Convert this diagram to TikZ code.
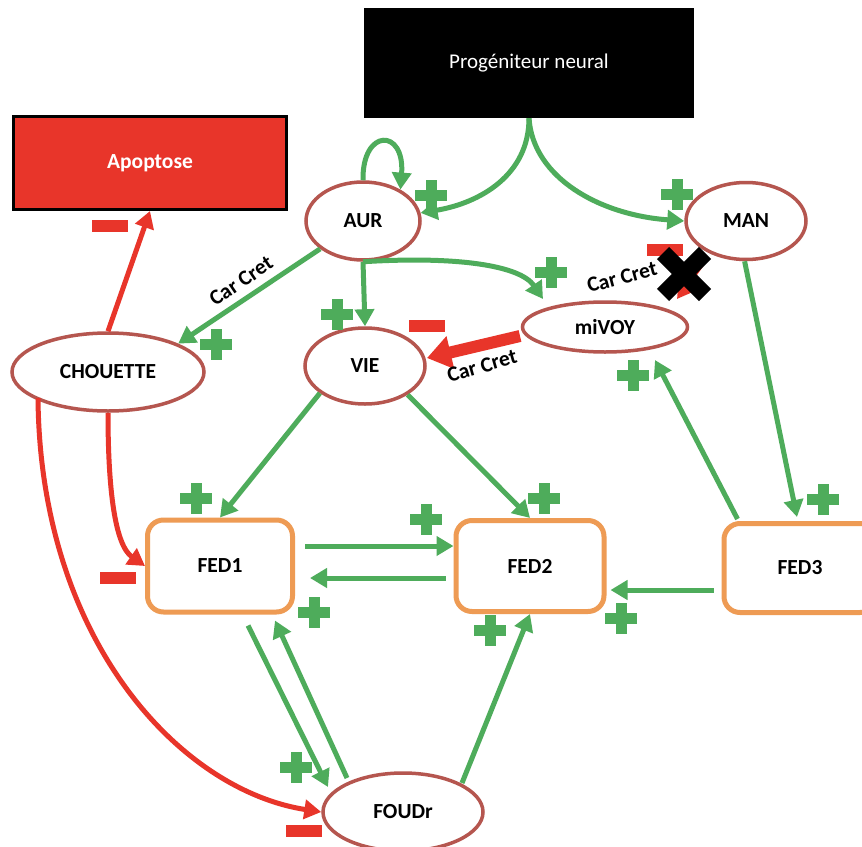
\documentclass[tikz,border=0pt]{standalone}
\usepackage{fontspec}
\setmainfont{Carlito}
\usetikzlibrary{arrows.meta,shapes.geometric,calc}

\definecolor{actgreen}{HTML}{4EAC5B}
\definecolor{inhred}{HTML}{E8352A}
\definecolor{cellrim}{HTML}{B5564F}
\definecolor{fedrim}{HTML}{EE9B54}

\newcommand\labelfont{\fontsize{21.5bp}{24bp}\selectfont\bfseries}

\tikzset{
  cell/.style={ellipse, draw=cellrim, line width=3.5bp, fill=white, inner sep=0pt, font=\labelfont},
  fedbox/.style={rectangle, rounded corners=16bp, draw=fedrim, line width=5bp, fill=white,
                 inner sep=0pt, font=\labelfont},
  act/.style={draw=actgreen, line width=5bp, -{Triangle[length=17bp,width=19bp]}},
  inh/.style={draw=inhred, line width=5bp, -{Triangle[length=17bp,width=19bp]}},
  inhthick/.style={draw=inhred, line width=12bp, -{Triangle[length=24bp,width=32bp]}},
  carcret/.style={font=\labelfont, inner sep=1pt},
  plussign/.pic={
    \fill[actgreen] (-16,-5.5) rectangle (16,5.5);
    \fill[actgreen] (-5.5,-15.5) rectangle (5.5,15.5);
  },
  minussign/.pic={\fill[inhred] (-18,-6) rectangle (18,6);},
}

\begin{document}
\begin{tikzpicture}[x=1bp,y=-1bp]
\clip (0,0) rectangle (862,847);
\fill[white] (0,0) rectangle (862,847);

% top-level boxes
\node[fill=black, minimum width=330bp, minimum height=110bp, inner sep=0pt, text=white,
      font=\fontsize{21bp}{24bp}\selectfont] (prog) at (529,63) {Progéniteur neural};
\node[fill=inhred, draw=black, line width=3bp, minimum width=272bp, minimum height=93bp,
      inner sep=0pt, text=white, font=\labelfont] (apop) at (150,163) {Apoptose};

% cell states
\node[cell, minimum width=114bp, minimum height=78bp] (aur) at (363,221) {AUR};
\node[cell, minimum width=120bp, minimum height=77bp] (man) at (746,221) {MAN};
\node[cell, minimum width=192bp, minimum height=78bp] (chouette) at (108,372) {CHOUETTE};
\node[cell, minimum width=120bp, minimum height=76bp] (vie) at (365,366) {VIE};
\node[cell, minimum width=165bp, minimum height=50bp] (mivoy) at (605,327) {miVOY};
\node[cell, minimum width=160bp, minimum height=78bp] (foudr) at (403,812) {FOUDr};

% FED boxes
\node[fedbox, minimum width=145bp, minimum height=92bp] (fed1) at (220,566) {FED1};
\node[fedbox, minimum width=148bp, minimum height=91bp] (fed2) at (530,566) {FED2};
\node[fedbox, minimum width=152bp, minimum height=89bp] (fed3) at (800,568) {FED3};

% activations from the progenitor
\draw[act] (prog.south) .. controls (529,175) and (480,203) .. (aur.8);
\draw[act] (prog.south) .. controls (533,178) and (600,215) .. (man.west);
\draw[act] (aur.north) .. controls (362,128) and (405,128) .. (aur.40);

% AUR outputs
\draw[act] (aur.213) -- (chouette.22);
\draw[act] (aur.south) -- (vie.north);
\draw[act] (aur.south) .. controls (455,256) and (520,265) .. ($(mivoy)+(-62,-28)$);

% miVOY represses VIE
\draw[inhthick] ($(mivoy)+(-85,9)$) -- ($(vie)+(62,-8)$);

% MAN represses miVOY (blocked)
\pic at (665,250) {minussign};
\coordinate (block) at (684,274);
\draw[inh] ($(block)+(22,-16)$) -- ($(mivoy)+(72,-28)$);
\draw[black, line width=17bp] ($(block)+(-21,-21)$) -- ($(block)+(21,21)$);
\draw[black, line width=17bp] ($(block)+(21,-21)$) -- ($(block)+(-21,21)$);

% MAN / FED3 / miVOY
\draw[act] (man.268) -- ($(fed3.north)+(-3,-4)$);
\draw[act] ($(fed3.north west)+(16,-2)$) -- ($(mivoy)+(50,33)$);

% VIE to FED1 and FED2
\draw[act] (vie.211) -- (fed1.north);
\draw[act] (vie.-34) -- (fed2.north);

% FED exchanges
\draw[act] ($(fed1.east)+(10,-20)$) -- ($(fed2.west)+(0,-20)$);
\draw[act] ($(fed2.west)+(-8,12)$) -- ($(fed1.east)+(15,12)$);
\draw[act] ($(fed3.west)+(-8,22)$) -- ($(fed2.east)+(4,24)$);
\draw[act] ($(fed1.south)+(28,11)$) -- ($(foudr)+(-75,-25)$);
\draw[act] ($(foudr)+(-56,-34)$) -- ($(fed1.south)+(55,6)$);
\draw[act] ($(foudr)+(59,-29)$) -- (fed2.south);

% CHOUETTE repressions
\draw[inh] (chouette.north) -- (apop.south);
\draw[inh] (chouette.south) .. controls (108,490) and (115,545) .. (fed1.west);
\draw[inh] ($(chouette)+(-70,26)$) .. controls (40,640) and (180,790) .. (foudr.west);

% Car Cret labels
\node[carcret, rotate=34] (cc1) at (241,281) {Car Cret};
\node[carcret, rotate=15] (cc2) at (622,277) {Car Cret};
\node[carcret, rotate=16] (cc3) at (482,366) {Car Cret};

% signs
\pic at (431,195) {plussign};
\pic at (677,194) {plussign};
\pic at (551,272) {plussign};
\pic at (337,314) {plussign};
\pic at (216,344) {plussign};
\pic at (633,375) {plussign};
\pic at (823,499) {plussign};
\pic at (196,498) {plussign};
\pic at (426,519) {plussign};
\pic at (314,612) {plussign};
\pic at (296,767) {plussign};
\pic at (544,498) {plussign};
\pic at (490,630) {plussign};
\pic at (621,618) {plussign};

\pic at (110,226) {minussign};
\pic at (427,326) {minussign};
\pic at (118,578) {minussign};
\pic at (304,831) {minussign};
\end{tikzpicture}
\end{document}
